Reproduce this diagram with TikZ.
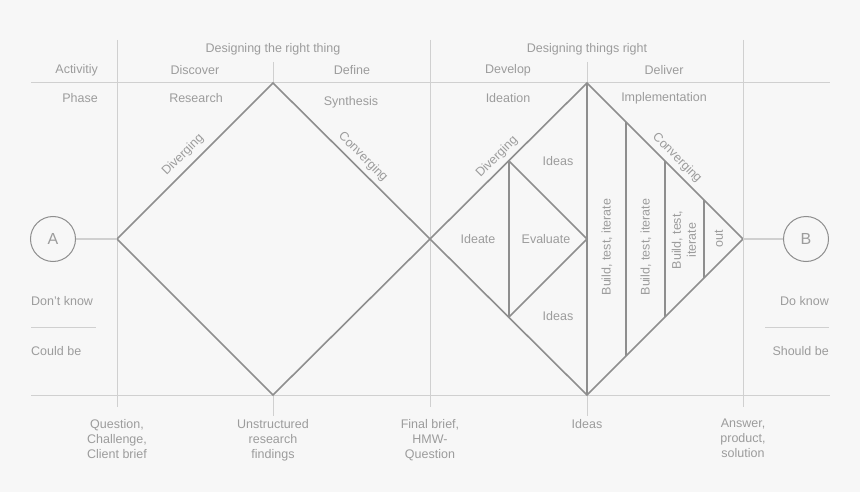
\documentclass[tikz,border=0pt]{standalone}
\usepackage{fontspec}
\setmainfont{Liberation Sans}
\usetikzlibrary{positioning}
\definecolor{bgcol}{HTML}{F7F7F7}
\definecolor{ink}{HTML}{9C9C9C}
\definecolor{rulecol}{HTML}{D0D0D0}
\definecolor{edgecol}{HTML}{8E8E8E}
\begin{document}
\begin{tikzpicture}[x=1pt, y=-1pt,
  lbl/.style={text=ink, font=\fontsize{12.5}{15}\selectfont, inner sep=0pt},
  rulel/.style={draw=rulecol, line width=1pt},
  dia/.style={draw=edgecol, line width=1.6pt, line join=miter},
  endpt/.style={circle, draw=edgecol, line width=1pt, minimum size=45pt,
                inner sep=0pt, text=ink, font=\fontsize{16}{18}\selectfont}]
\fill[bgcol] (0,0) rectangle (860,492);
\useasboundingbox (0,0) rectangle (860,492);
% grid
\coordinate (tl) at (31,83);   \coordinate (tr) at (830,83);
\coordinate (bl) at (31,395);  \coordinate (br) at (830,395);
\coordinate (v1t) at (117,40); \coordinate (v1b) at (117,407);
\coordinate (v2t) at (430,40); \coordinate (v2b) at (430,407);
\coordinate (v3t) at (743,40); \coordinate (v3b) at (743,407);
\coordinate (k1t) at (273,62); \coordinate (k1b) at (273,416);
\coordinate (k2t) at (587,62); \coordinate (k2b) at (587,416);
\draw[rulel] (tl) -- (tr);
\draw[rulel] (bl) -- (br);
\draw[rulel] (v1t) -- (v1b);
\draw[rulel] (v2t) -- (v2b);
\draw[rulel] (v3t) -- (v3b);
\draw[rulel] (k1t) -- (273,83);
\draw[rulel] (273,395) -- (k1b);
\draw[rulel] (k2t) -- (587,83);
\draw[rulel] (587,395) -- (k2b);
% diamonds
\coordinate (qin) at (117,239);
\coordinate (top1) at (273,83);
\coordinate (brief) at (430,239);
\coordinate (bot1) at (273,395);
\coordinate (top2) at (587,83);
\coordinate (ansr) at (743,239);
\coordinate (bot2) at (587,395);
\draw[dia] (qin) -- (top1) -- (brief) -- (bot1) -- cycle;
\draw[dia] (brief) -- (top2) -- (ansr) -- (bot2) -- cycle;
\coordinate (e1t) at (509,161); \coordinate (e1b) at (509,317);
\coordinate (b1t) at (626,122); \coordinate (b1b) at (626,356);
\coordinate (b2t) at (665,161); \coordinate (b2b) at (665,317);
\coordinate (b3t) at (704,200); \coordinate (b3b) at (704,278);
\coordinate (mid2) at (587,239);
\draw[dia] (e1t) -- (e1b);
\draw[dia] (e1t) -- (mid2) -- (e1b);
\draw[dia] (top2) -- (bot2);
\draw[dia] (b1t) -- (b1b);
\draw[dia] (b2t) -- (b2b);
\draw[dia] (b3t) -- (b3b);
% end points
\node[endpt] (A) at (53,239) {A};
\node[endpt] (B) at (806,239) {B};
\draw[draw=rulecol, line width=1.5pt] (A) -- (qin);
\draw[draw=rulecol, line width=1.5pt] (ansr) -- (B);
% header
\node[lbl, anchor=east] (act) at (98,70) {Activitiy};
\node[lbl, anchor=east] (phase) at (98,98) {Phase};
\node[lbl] (right1) at (273,49) {Designing the right thing};
\node[lbl] (right2) at (587,49) {Designing things right};
\node[lbl] (disc) at (195,70) {Discover};
\node[lbl] (defi) at (352,70) {Define};
\node[lbl] (devl) at (508,70) {Develop};
\node[lbl] (delv) at (664,70) {Deliver};
\node[lbl] (rsch) at (196,98) {Research};
\node[lbl] (synt) at (351,102) {Synthesis};
\node[lbl] (idtn) at (508,98) {Ideation};
\node[lbl] (impl) at (664,98) {Implementation};
% diamond labels
\node[lbl, rotate=45] (div1) at (183,155) {Diverging};
\node[lbl, rotate=-45] (conv1) at (363,157) {Converging};
\node[lbl, rotate=45] (div2) at (497,157) {Diverging};
\node[lbl, rotate=-45] (conv2) at (677,158) {Converging};
\node[lbl] (ideas1) at (558,161) {Ideas};
\node[lbl] (ideas2) at (558,316) {Ideas};
\node[lbl] (ideate) at (478,239) {Ideate};
\node[lbl] (evalu) at (546,239) {Evaluate};
\node[lbl, rotate=90] (bti1) at (607,247) {Build, test, iterate};
\node[lbl, rotate=90] (bti2) at (646,247) {Build, test, iterate};
\node[lbl, rotate=90, align=center] (bti3) at (684,240) {Build, test,\\iterate};
\node[lbl, rotate=90] (out) at (719,239) {out};
% sides
\node[lbl, anchor=west] (dknow) at (31,301) {Don’t know};
\node[lbl, anchor=west] (could) at (31,351) {Could be};
\node[lbl, anchor=east] (doknow) at (829,301) {Do know};
\node[lbl, anchor=east] (should) at (829,351) {Should be};
\coordinate (sl1) at (31,327);  \coordinate (sl2) at (96,327);
\coordinate (sr1) at (765,327); \coordinate (sr2) at (829,327);
\draw[rulel] (sl1) -- (sl2);
\draw[rulel] (sr1) -- (sr2);
% bottom
\node[lbl, anchor=north, align=center] (out1) at (117,419) {Question,\\Challenge,\\Client brief};
\node[lbl, anchor=north, align=center] (out2) at (273,419) {Unstructured\\research\\findings};
\node[lbl, anchor=north, align=center] (out3) at (430,419) {Final brief,\\HMW-\\Question};
\node[lbl, anchor=north, align=center] (out4) at (587,419) {Ideas};
\node[lbl, anchor=north, align=center] (out5) at (743,419) {Answer,\\product,\\solution};
\end{tikzpicture}
\end{document}
